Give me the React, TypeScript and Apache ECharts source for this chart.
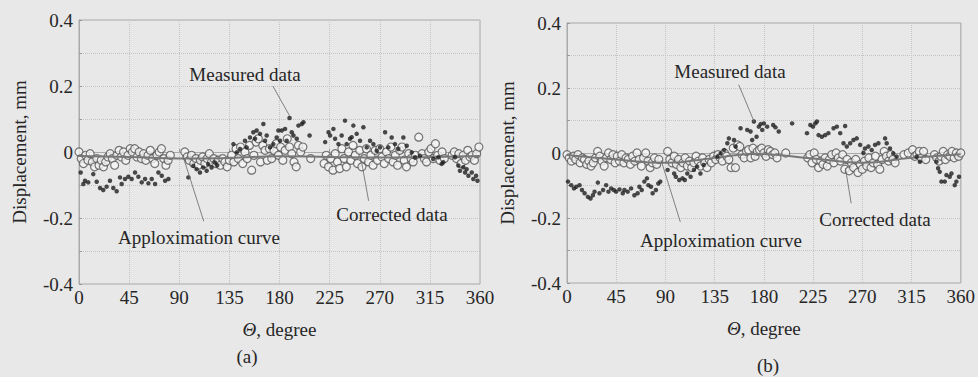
import React, { useEffect, useRef } from "react";
import * as echarts from "echarts";

const xTicks = [0, 45, 90, 135, 180, 225, 270, 315, 360];
const yTicks = [-0.4, -0.2, 0, 0.2, 0.4];

const measuredA: [number, number][] = [
  [1.5, -0.062], [3.9, -0.097], [5.4, -0.087], [8.3, -0.092], [12.8, -0.067], [15.9, -0.09], [18.9, -0.109],
  [21.8, -0.115], [24.8, -0.105], [27.8, -0.087], [30.8, -0.109], [33.8, -0.119], [36.8, -0.077], [38.3, -0.097],
  [41.3, -0.082], [44.3, -0.075], [47.3, -0.082], [50.3, -0.062], [53.3, -0.075], [56.3, -0.092], [59.3, -0.082],
  [62.3, -0.095], [65.3, -0.082], [68.3, -0.097], [71.3, -0.062], [74.3, -0.072], [77.3, -0.087], [80.3, -0.082],
  [98.2, -0.077], [102.6, -0.042], [105.6, -0.052], [108.6, -0.062], [111.6, -0.047], [114.6, -0.057], [116, -0.037],
  [119, -0.047], [122, -0.032], [124, -0.04],
  [138.6, 0.024], [141.6, -0.001], [144.6, 0.009], [149, 0.034], [150.5, 0.014], [153.5, 0.044], [156.5, 0.06],
  [158, 0.04], [159.5, 0.065], [162.5, 0.055], [165.5, 0.085], [167, 0.034], [168.5, 0.05], [171.5, 0.014],
  [174.5, 0.024], [177.5, 0.044], [179, 0.065], [180.5, 0.034], [182, 0.065], [185, 0.07], [186.5, 0.034],
  [189, 0.103], [191, 0.06], [192.5, 0.05], [195.5, 0.04], [197, 0.08], [200, 0.085], [201.5, 0.09], [207, 0.05],
  [221, 0.03], [224, 0.06], [225.4, 0.05], [228.4, 0.07], [229.9, 0.04], [232.9, 0.024], [235.8, 0.05],
  [238.8, 0.095], [240.3, 0.024], [243.3, 0.04], [244.8, 0.045], [246.3, 0.08], [249.3, 0.055], [252.3, 0.034],
  [255.3, 0.075], [258.3, 0.014], [261.3, 0.034], [264.3, 0.024], [267.3, 0.004], [270.3, 0.014], [274.8, 0.06],
  [277.7, 0.014], [280.7, 0.044], [283.7, 0.024], [286.7, 0.009], [291.2, 0.044], [294.2, 0.019], [298.7, -0.001],
  [301.7, -0.016], [306, -0.011], [318, -0.021], [322.6, -0.016], [325.6, -0.036], [327, -0.031],
  [337.6, -0.016], [340.6, -0.041], [342, -0.057], [345, -0.046], [346.6, -0.062], [348, -0.052], [349.6, -0.072],
  [352.6, -0.062], [354, -0.082], [356.5, -0.072], [357.7, -0.087],
];

const correctedA: [number, number][] = [
  [0, 0.0], [2, -0.02], [4, -0.035], [6, -0.01], [8, -0.025], [10, -0.005], [12, -0.03], [14, -0.045], [16, -0.02],
  [18, -0.04], [20, -0.025], [22, -0.045], [24, -0.03], [26, -0.015], [28, -0.005], [30, -0.02], [32, -0.04],
  [34, -0.01], [36, 0.005], [38, -0.015], [40, 0.0], [42, -0.025], [44, -0.01], [46, 0.01], [48, 0.0], [50, 0.01],
  [52, -0.015], [54, 0.0], [56, -0.02], [58, -0.005], [60, -0.025], [62, -0.01], [64, 0.005], [66, -0.02],
  [68, -0.035], [70, -0.01], [72, 0.0], [74, 0.01], [76, -0.02], [78, -0.04], [80, -0.025], [82, -0.01],
  [95, 0.0], [97, -0.015], [99, -0.025], [101, -0.01], [103, -0.035], [105, -0.02], [107, -0.04], [109, -0.025],
  [111, -0.015], [113, -0.035], [115, -0.02], [117, -0.005], [119, -0.03], [121, -0.02], [123, -0.035],
  [125, -0.025], [127, -0.04], [129, -0.02], [131, -0.03], [133, -0.045], [135, -0.025], [137, -0.01],
  [139, -0.03], [141, 0.01], [143, -0.02], [145, 0.015], [147, -0.035], [149, 0.0], [151, -0.02], [153, 0.02],
  [155, -0.055], [157, -0.01], [159, 0.03], [161, 0.04], [163, -0.03], [165, 0.02], [167, 0.005], [169, -0.025],
  [171, 0.01], [173, -0.02], [175, 0.005], [177, 0.025], [179, -0.01], [181, 0.015], [183, -0.025], [185, 0.005],
  [187, 0.04], [189, 0.015], [191, -0.005], [193, -0.03], [195, -0.045], [197, 0.02], [199, 0.0], [201, 0.015],
  [208, -0.02],
  [220, -0.035], [222, -0.01], [224, -0.045], [226, -0.02], [228, -0.055], [230, -0.005], [232, -0.03],
  [234, -0.05], [236, 0.01], [238, -0.02], [240, -0.045], [242, 0.0], [244, -0.025], [246, 0.02], [248, -0.01],
  [250, -0.035], [252, 0.005], [254, -0.045], [256, -0.02], [258, 0.01], [260, -0.03], [262, -0.01], [264, -0.04],
  [266, 0.005], [268, -0.025], [270, 0.01], [272, -0.015], [274, -0.035], [276, 0.0], [278, -0.02], [280, 0.015],
  [282, -0.03], [284, -0.01], [286, -0.04], [288, 0.005], [290, 0.015], [292, -0.025], [294, -0.045],
  [296, -0.005], [298, -0.02], [300, -0.03], [302, -0.01], [305, 0.045], [308, -0.005], [310, -0.02],
  [312, -0.03], [314, 0.0], [316, 0.01], [318, -0.02], [320, 0.025], [322, -0.01], [324, -0.025], [326, 0.0],
  [328, -0.02],
  [335, -0.01], [337, 0.0], [339, -0.02], [341, -0.005], [343, -0.035], [345, -0.01], [347, -0.025], [349, 0.005],
  [351, -0.015], [353, -0.01], [355, -0.025], [357, -0.005], [359, 0.015],
];

const curveA: [number, number][] = [
  [0, -0.012], [45, -0.015], [90, -0.02], [135, -0.018], [180, -0.013], [225, -0.015], [270, -0.017],
  [315, -0.015], [360, -0.012],
];

const measuredB: [number, number][] = [
  [0.9, -0.088], [3.9, -0.099], [6.4, -0.109], [8.5, -0.104], [11.5, -0.099], [13.7, -0.114], [16.1, -0.124],
  [19.1, -0.135], [21.5, -0.14], [23.7, -0.13], [25.2, -0.119], [28.2, -0.091], [29.7, -0.124], [33, -0.114],
  [35.8, -0.099], [37.9, -0.119], [40.4, -0.109], [42.8, -0.114], [44.9, -0.119], [48, -0.112], [51, -0.124],
  [52.5, -0.114], [55.5, -0.119], [58.6, -0.109], [61.6, -0.13], [64.6, -0.124], [66.2, -0.104], [68.3, -0.114],
  [70.7, -0.088], [73.1, -0.078], [74.4, -0.099], [76.8, -0.104], [78.3, -0.124], [81.3, -0.114], [83.5, -0.094],
  [85.3, -0.088],
  [92, -0.052], [98, -0.063], [99.5, -0.073], [102.6, -0.083], [105.6, -0.078], [107.7, -0.083], [110, -0.063],
  [113, -0.073], [116, -0.052], [119, -0.042], [122, -0.063], [125, -0.037],
  [137.5, -0.011], [140.5, -0.001], [143.6, 0.009], [146.6, 0.03], [148, 0.045], [152.7, 0.04], [154.2, 0.02],
  [158.7, 0.076], [164.8, 0.071], [167.8, 0.066], [169.3, 0.04], [170.9, 0.097], [173.3, 0.05], [175.4, 0.081],
  [177, 0.089], [178.5, 0.071], [180, 0.091], [183, 0.081], [188.5, 0.086], [190.6, 0.079], [193.6, 0.066],
  [205.8, 0.091],
  [219.4, 0.061], [222.5, 0.086], [224.9, 0.081], [227, 0.091], [228.5, 0.097], [230, 0.055], [233, 0.05],
  [236, 0.055], [239, 0.061], [243.7, 0.076], [246.7, 0.081], [249.8, 0.061], [252.8, 0.03], [254.3, 0.083],
  [255.8, 0.02], [258.9, 0.03], [261.9, 0.04], [264.9, 0.045], [268, 0.025], [271, 0.0], [272.5, 0.014],
  [275.6, 0.02], [278.6, 0.009], [281.6, 0.025], [284.7, 0.03], [290.8, 0.045], [292.3, 0.03], [295.3, 0.014],
  [298.3, -0.001], [301.4, -0.011], [319.6, -0.011], [322.6, -0.027],
  [337.8, -0.027], [339.3, -0.047], [340.8, -0.058], [342.3, -0.088], [345.4, -0.088], [346.9, -0.068],
  [349.9, -0.073], [351.5, -0.063], [354.5, -0.099], [356, -0.088], [358.4, -0.073],
];

const correctedB: [number, number][] = [
  [0, -0.005], [2, -0.015], [4, -0.025], [6, -0.01], [8, -0.02], [10, -0.005], [12, -0.03], [14, -0.015],
  [16, -0.02], [18, -0.035], [20, -0.025], [22, -0.04], [24, -0.03], [26, -0.015], [28, 0.005], [30, -0.01],
  [32, -0.025], [34, -0.04], [36, -0.015], [38, 0.0], [40, -0.02], [42, -0.005], [44, -0.03], [46, -0.01],
  [48, -0.025], [50, -0.005], [52, -0.03], [54, -0.015], [56, -0.02], [58, -0.035], [60, -0.01], [62, -0.025],
  [64, 0.0], [66, -0.02], [68, -0.04], [70, -0.015], [72, 0.0], [74, -0.025], [76, -0.045], [78, -0.03],
  [80, -0.015], [82, -0.035], [84, -0.02],
  [92, 0.005], [94, -0.02], [96, -0.03], [98, -0.01], [100, -0.035], [102, -0.02], [104, -0.045], [106, -0.03],
  [108, -0.015], [110, -0.04], [112, -0.025], [114, -0.045], [116, -0.03], [118, -0.01], [120, -0.025],
  [122, -0.04], [124, -0.015], [126, -0.03], [128, -0.045], [130, -0.02], [132, -0.03], [134, -0.01],
  [136, -0.02], [138, -0.005], [140, -0.015], [142, -0.025], [144, 0.0], [146, -0.01], [148, -0.02],
  [150, -0.045], [152, 0.015], [154, -0.045], [156, 0.025], [158, 0.02], [160, -0.005], [162, -0.015],
  [164, 0.005], [166, 0.01], [168, -0.015], [170, 0.015], [172, -0.01], [174, 0.005], [176, 0.01], [178, 0.015],
  [180, 0.0], [182, -0.01], [184, 0.01], [186, 0.005], [188, -0.005], [190, 0.0], [192, -0.015], [200, 0.0],
  [220, -0.015], [222, -0.005], [224, -0.03], [226, 0.0], [228, -0.02], [230, -0.045], [232, -0.025],
  [234, -0.035], [236, -0.015], [238, -0.04], [240, -0.02], [242, -0.005], [244, -0.03], [246, 0.0],
  [248, -0.015], [250, -0.025], [252, -0.005], [254, -0.05], [256, -0.02], [258, -0.055], [260, -0.03],
  [262, -0.045], [264, -0.02], [266, -0.06], [268, -0.035], [270, -0.05], [272, -0.025], [274, -0.04],
  [276, -0.015], [278, -0.045], [280, -0.03], [282, -0.01], [284, -0.035], [286, -0.05], [288, -0.02],
  [290, 0.005], [292, -0.01], [294, -0.025], [296, -0.005], [298, -0.02], [300, -0.03],
  [308, -0.005], [312, 0.0], [316, 0.01], [318, -0.01], [320, -0.005], [322, 0.005], [324, -0.015], [326, 0.005],
  [328, -0.02],
  [336, -0.005], [338, -0.015], [340, -0.025], [342, -0.01], [344, 0.005], [346, -0.02], [348, -0.005],
  [350, -0.01], [352, 0.005], [354, -0.015], [356, 0.0], [358, -0.01], [360, 0.0],
];

const curveB: [number, number][] = [
  [0, -0.006], [45, -0.02], [90, -0.03], [135, -0.015], [170, -0.003], [225, -0.017], [270, -0.03],
  [315, -0.015], [360, -0.004],
];

// leader lines in data coordinates: [from, to]
const leadersA: [number, number][][] = [
  [[174, 0.2], [189, 0.11]],
  [[93, -0.009], [112, -0.21]],
  [[254, -0.036], [260, -0.148]],
];
const leadersB: [number, number][][] = [
  [[157, 0.21], [171, 0.097]],
  [[86, -0.022], [103.6, -0.212]],
  [[254.6, -0.047], [259.8, -0.155]],
];

const FONT = "'Liberation Serif', 'Times New Roman', 'DejaVu Serif', serif";
const TXT = "#262626";
const FS = 19;

function axes(idx: number) {
  const xAxis = {
    gridIndex: idx,
    type: "value",
    min: 0,
    max: 360,
    interval: 45,
    name: "{i|Θ}, degree",
    nameLocation: "middle",
    nameGap: 36,
    nameTextStyle: {
      fontFamily: FONT,
      fontSize: FS,
      color: TXT,
      rich: { i: { fontStyle: "italic", fontFamily: FONT, fontSize: FS, color: TXT } },
    },
    axisLine: { show: true, lineStyle: { color: "#aaa", width: 1 } },
    axisTick: { show: true, inside: true, length: 3, lineStyle: { color: "#999" } },
    axisLabel: {
      fontFamily: FONT,
      fontSize: FS,
      color: TXT,
      margin: 4,
      formatter: (v: number) => (xTicks.includes(v) ? String(v) : ""),
    },
    splitLine: { show: true, lineStyle: { color: "#c4c4c4", type: "dotted" } },
  };
  const yAxis = {
    gridIndex: idx,
    type: "value",
    min: -0.4,
    max: 0.4,
    interval: 0.1,
    name: "Displacement, mm",
    nameLocation: "middle",
    nameGap: 50,
    nameTextStyle: { fontFamily: FONT, fontSize: FS, color: TXT },
    axisLine: { show: true, lineStyle: { color: "#aaa", width: 1 } },
    axisTick: { show: true, inside: true, length: 3, lineStyle: { color: "#999" } },
    axisLabel: {
      fontFamily: FONT,
      fontSize: FS,
      color: TXT,
      margin: 6,
      formatter: (v: number) => {
        const r = Math.round(v * 10) / 10;
        const hit = yTicks.find((t) => Math.abs(t - r) < 1e-9);
        if (hit === undefined) return "";
        return hit === 0 ? "0" : hit.toFixed(1);
      },
    },
    splitLine: { show: true, lineStyle: { color: "#c4c4c4", type: "dotted" } },
  };
  return { xAxis, yAxis };
}

function seriesFor(idx: number, meas: [number, number][], corr: [number, number][], curve: [number, number][], leaders: [number, number][][]) {
  const s: any[] = [
    {
      type: "scatter",
      xAxisIndex: idx,
      yAxisIndex: idx,
      data: corr,
      symbol: "circle",
      symbolSize: 8,
      itemStyle: { color: "#f4f4f4", borderColor: "#555", borderWidth: 1.2 },
      z: 2,
    },
    {
      type: "line",
      xAxisIndex: idx,
      yAxisIndex: idx,
      data: curve,
      smooth: true,
      showSymbol: false,
      lineStyle: { color: "#777", width: 2 },
      z: 3,
    },
    {
      type: "scatter",
      xAxisIndex: idx,
      yAxisIndex: idx,
      data: meas,
      symbol: "circle",
      symbolSize: 4.5,
      itemStyle: { color: "#1e1e1e" },
      z: 4,
    },
  ];
  leaders.forEach((l) => {
    s.push({
      type: "line",
      xAxisIndex: idx,
      yAxisIndex: idx,
      data: l,
      showSymbol: false,
      lineStyle: { color: "#666", width: 0.8 },
      z: 5,
    });
  });
  return s;
}

export default function App() {
  const ref = useRef<HTMLDivElement>(null);
  useEffect(() => {
    document.body.style.margin = "0";
    document.body.style.background = "#e8e8e8";
    if (!ref.current) return;
    const chart = echarts.init(ref.current, undefined, { renderer: "svg" });
    const a = axes(0);
    const b = axes(1);
    const txt = (text: string, x: number, y: number, size = FS) => ({
      type: "text",
      x,
      y,
      style: {
        text,
        fontFamily: FONT,
        fontSize: size,
        fill: TXT,
        align: "center",
        verticalAlign: "middle",
      },
      z: 10,
    });
    chart.setOption({
      animation: false,
      backgroundColor: "#e8e8e8",
      grid: [
        { left: 79, top: 20, width: 401, height: 264, show: true, borderColor: "#aaa", borderWidth: 1, backgroundColor: "transparent" },
        { left: 567, top: 23, width: 395, height: 260, show: true, borderColor: "#aaa", borderWidth: 1, backgroundColor: "transparent" },
      ],
      xAxis: [a.xAxis, b.xAxis],
      yAxis: [a.yAxis, b.yAxis],
      series: [
        ...seriesFor(0, measuredA, correctedA, curveA, leadersA),
        ...seriesFor(1, measuredB, correctedB, curveB, leadersB),
      ],
      graphic: [
        txt("Measured data", 245, 74),
        txt("Apploximation curve", 199, 237),
        txt("Corrected data", 392, 214),
        txt("(a)", 247, 356),
        txt("Measured data", 730, 71),
        txt("Apploximation curve", 721, 240),
        txt("Corrected data", 875, 219),
        txt("(b)", 768, 365),
      ],
    });
    return () => chart.dispose();
  }, []);
  return <div ref={ref} style={{ width: 978, height: 377 }} />;
}
